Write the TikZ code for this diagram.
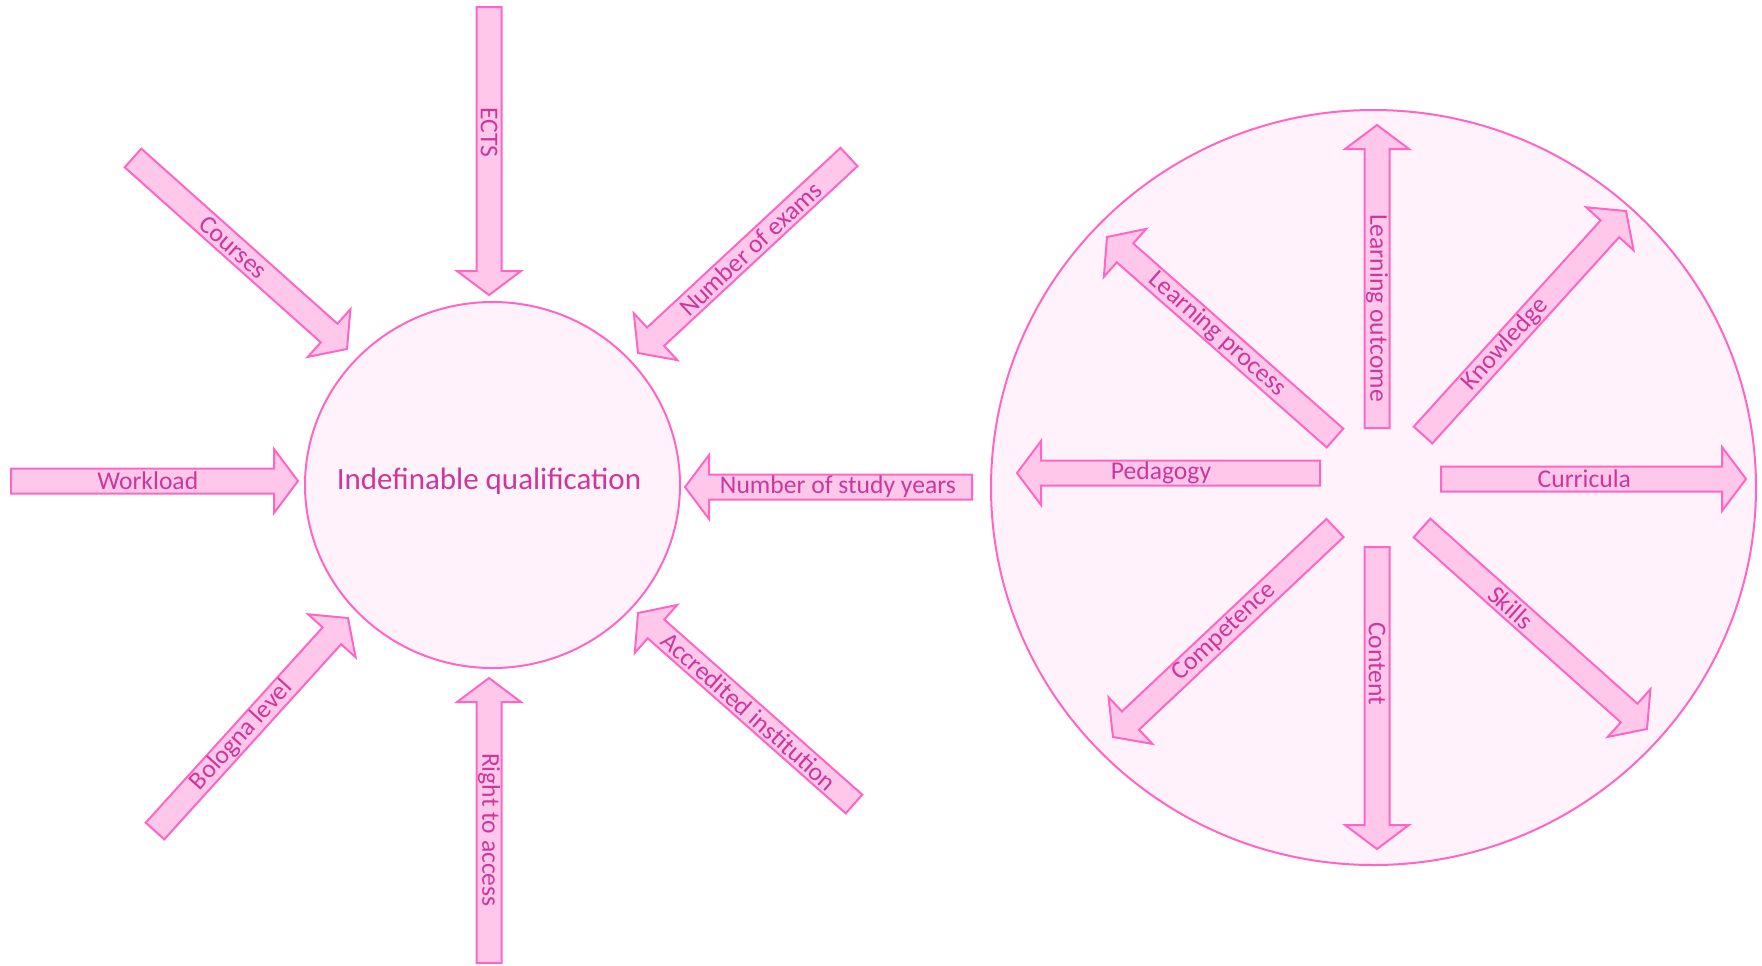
\documentclass[tikz,border=0pt]{standalone}
\usepackage{fontspec}
\setmainfont{Carlito}
\usetikzlibrary{calc,shapes.geometric}

\definecolor{pinkline}{RGB}{255,102,196}
\definecolor{pinkfill}{RGB}{255,200,234}
\definecolor{pinkpale}{RGB}{255,242,250}
\definecolor{pinktext}{RGB}{205,55,155}

% block arrow sizes (half shaft, half head, head length)
\newcommand{\arrshaft}{6.25pt}
\newcommand{\arrhead}{16pt}
\newcommand{\arrtip}{12pt}

\tikzset{
  arrowbox/.style={draw=pinkline, fill=pinkfill, line width=1pt, line join=miter},
  arrowlabel/.style={text=pinktext, font=\fontsize{12.8}{14}\selectfont, inner sep=0pt},
  bubble/.style={ellipse, draw=pinkline, fill=pinkpale, line width=1pt, inner sep=0pt},
}

% #1 name, #2 tail, #3 tip, #4 text angle, #5 text position, #6 text
\newcommand{\blockarrow}[6]{%
  \coordinate (#1-base) at ($(#3)!\arrtip!(#2)$);
  \draw[arrowbox] ($(#2)!\arrshaft!90:(#3)$) -- ($(#1-base)!\arrshaft!90:(#3)$)
    -- ($(#1-base)!\arrhead!90:(#3)$) -- (#3) -- ($(#1-base)!\arrhead!-90:(#3)$)
    -- ($(#1-base)!\arrshaft!-90:(#3)$) -- ($(#2)!\arrshaft!-90:(#3)$) -- cycle;
  \node[arrowlabel, rotate=#4] (#1) at ($(#2)!#5!(#1-base)$) {#6};
}

\begin{document}
\begin{tikzpicture}[x=0.5pt, y=-0.5pt]
  \useasboundingbox (0,0) rectangle (1762,965);

  % left: the qualification
  \node[bubble, minimum width=187.5pt, minimum height=183pt] (qual) at (492.5,485) {};
  \node[text=pinktext, font=\fontsize{15.5}{18}\selectfont, inner sep=0pt] (qual-text) at (489,481) {Indefinable qualification};

  \coordinate (ects-tail) at (489,7);      \coordinate (ects-tip) at (489,295);
  \coordinate (courses-tail) at (133,158); \coordinate (courses-tip) at (347,349);
  \coordinate (exams-tail) at (849,157);   \coordinate (exams-tip) at (638,353);
  \coordinate (work-tail) at (11,481);     \coordinate (work-tip) at (298,481);
  \coordinate (years-tail) at (972,487);   \coordinate (years-tip) at (685,487);
  \coordinate (bologna-tail) at (155,831); \coordinate (bologna-tip) at (348,618);
  \coordinate (access-tail) at (489,963);  \coordinate (access-tip) at (489,678);
  \coordinate (accr-tail) at (854,804);    \coordinate (accr-tip) at (638,613);

  \blockarrow{ects}{ects-tail}{ects-tip}{-90}{0.475}{ECTS}
  \blockarrow{courses}{courses-tail}{courses-tip}{-41.75}{0.51}{Courses}
  \blockarrow{exams}{exams-tail}{exams-tip}{43}{0.51}{Number of exams}
  \blockarrow{work}{work-tail}{work-tip}{0}{0.52}{Workload}
  \blockarrow{years}{years-tail}{years-tip}{0}{0.51}{Number of study years}
  \blockarrow{bologna}{bologna-tail}{bologna-tip}{47.7}{0.49}{Bologna level}
  \blockarrow{access}{access-tail}{access-tip}{-90}{0.51}{Right to access}
  \blockarrow{accr}{accr-tail}{accr-tip}{-41.5}{0.53}{Accredited institution}

  % right: what it is made of
  \node[bubble, minimum width=382.5pt, minimum height=377.5pt] (core) at (1373.5,487.5) {};

  \coordinate (outcome-tail) at (1377,428);  \coordinate (outcome-tip) at (1377,125);
  \coordinate (know-tail) at (1423,435);     \coordinate (know-tip) at (1626,211);
  \coordinate (process-tail) at (1335,438);  \coordinate (process-tip) at (1107,237);
  \coordinate (peda-tail) at (1320,473);     \coordinate (peda-tip) at (1017,473);
  \coordinate (curr-tail) at (1441,479);     \coordinate (curr-tip) at (1746,479);
  \coordinate (skills-tail) at (1422,528);   \coordinate (skills-tip) at (1647,729);
  \coordinate (content-tail) at (1377,547);  \coordinate (content-tip) at (1377,849);
  \coordinate (comp-tail) at (1335,528);     \coordinate (comp-tip) at (1113,737);

  \blockarrow{outcome}{outcome-tail}{outcome-tip}{-90}{0.43}{Learning outcome}
  \blockarrow{know}{know-tail}{know-tip}{47.8}{0.44}{Knowledge}
  \blockarrow{process}{process-tail}{process-tip}{-41.5}{0.56}{Learning process}
  \blockarrow{peda}{peda-tail}{peda-tip}{0}{0.57}{Pedagogy}
  \blockarrow{curr}{curr-tail}{curr-tip}{0}{0.51}{Curricula}
  \blockarrow{skills}{skills-tail}{skills-tip}{-41.8}{0.43}{Skills}
  \blockarrow{content}{content-tail}{content-tip}{-90}{0.42}{Content}
  \blockarrow{comp}{comp-tail}{comp-tip}{43.3}{0.54}{Competence}
\end{tikzpicture}
\end{document}
